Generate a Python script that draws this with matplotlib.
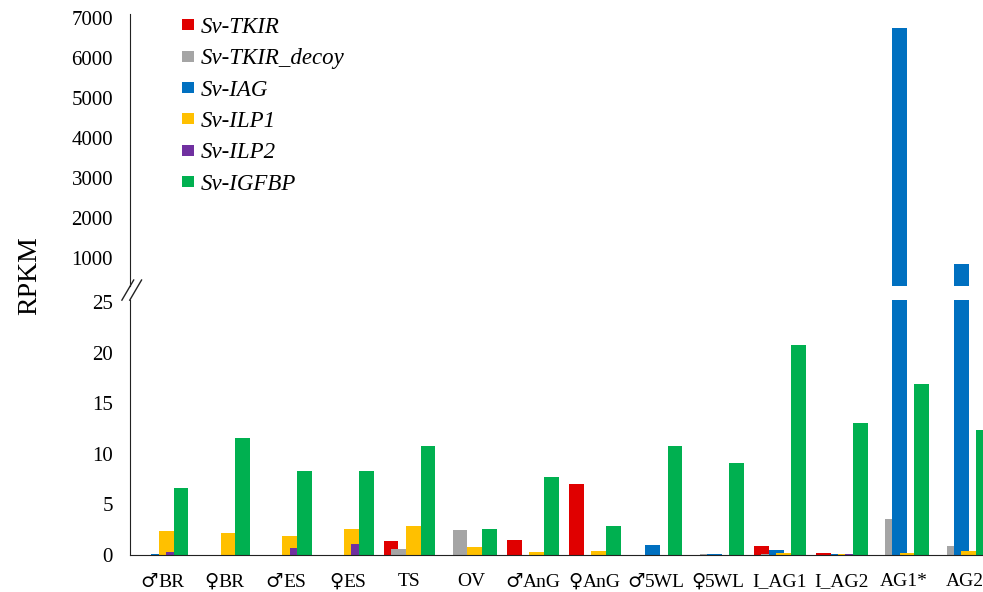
import matplotlib
matplotlib.use("Agg")
import matplotlib.pyplot as plt
from matplotlib.offsetbox import TextArea, HPacker, AnnotationBbox
import numpy as np

categories = ["♂BR", "♀BR", "♂ES", "♀ES", "TS", "OV", "♂AnG", "♀AnG",
              "♂5WL", "♀5WL", "I_AG1", "I_AG2", "AG1*", "AG2"]
series_names = ["Sv-TKIR", "Sv-TKIR_decoy", "Sv-IAG", "Sv-ILP1", "Sv-ILP2", "Sv-IGFBP"]
tkir =       [0, 0, 0, 0, 1.38, 0, 1.48, 6.98, 0, 0.03, 0.89, 0.2, 0, 0]
tkir_decoy = [0, 0, 0, 0, 0.59, 2.47, 0, 0, 0, 0.05, 0.05, 0, 3.52, 0.92]
iag =        [0.1, 0, 0, 0, 0, 0, 0, 0, 1.02, 0.05, 0.49, 0.1, 6750, 850]
ilp1 =       [2.37, 2.14, 1.88, 2.57, 2.83, 0.76, 0.33, 0.4, 0, 0.03, 0.17, 0.05, 0.17, 0.4]
ilp2 =       [0.33, 0, 0.72, 1.09, 0, 0, 0, 0, 0, 0, 0, 0.1, 0, 0]
igfbp =      [6.6, 11.6, 8.3, 8.3, 10.77, 2.54, 7.74, 2.83, 10.77, 9.06, 20.75, 13.04, 16.9, 12.35]
colors = ["#E00000", "#A5A5A5", "#0070C0", "#FFC000", "#7030A0", "#00B050"]

serif = ["Liberation Serif", "DejaVu Serif"]
plt.rcParams["font.family"] = serif

fig = plt.figure(figsize=(9.83, 5.92), dpi=100)
ax_lo = fig.add_axes([0.132, 0.0625, 0.868, 0.4305])
ax_hi = fig.add_axes([0.132, 0.517, 0.868, 0.459])

x = np.arange(len(categories))
step = 0.12
width = 0.24
all_series = [tkir, tkir_decoy, iag, ilp1, ilp2, igfbp]
for ax in (ax_lo, ax_hi):
    for i, vals in enumerate(all_series):
        ax.bar(x + (i - 2.5) * step, vals, width, color=colors[i],
               label=series_names[i])
    ax.set_xlim(-0.53, 13.29)
    ax.tick_params(length=0, labelsize=15, pad=12)
    for s in ["top", "right"]:
        ax.spines[s].set_visible(False)
    ax.spines["left"].set_color("#222222")

ax_lo.set_ylim(0, 25.2)
ax_lo.set_yticks([0, 5, 10, 15, 20, 25])
ax_lo.set_xticks([])
ax_lo.spines["bottom"].set_color("#222222")

# category labels; gender signs in DejaVu Serif so they match the letters in size
for xi, cat in zip(x, categories):
    parts = []
    if cat[0] in "♂♀":
        parts.append(TextArea(cat[0], textprops=dict(family="DejaVu Serif", size=14)))
        cat = cat[1:]
    parts.append(TextArea(cat, textprops=dict(family=serif, size=14)))
    box = HPacker(children=parts, pad=0, sep=0, align="baseline")
    ab = AnnotationBbox(box, (xi, 0), xycoords=ax_lo.get_xaxis_transform(),
                        xybox=(0, -13), boxcoords="offset points",
                        box_alignment=(0.5, 1), frameon=False)
    ax_lo.add_artist(ab)

ax_hi.set_ylim(300, 7100)
ax_hi.set_yticks([1000, 2000, 3000, 4000, 5000, 6000, 7000])
ax_hi.set_xticks([])
ax_hi.spines["bottom"].set_visible(False)
ax_hi.patch.set_alpha(0)

# break marks
for dx in (0.0, 0.008):
    fig.add_artist(plt.Line2D([0.124 + dx, 0.136 + dx], [0.493, 0.527],
                              color="#222222", lw=1.0))

fig.text(0.03, 0.535, "RPKM", rotation=90, fontsize=20, va="center", ha="center")

leg = ax_hi.legend(loc="upper left", bbox_to_anchor=(0.183, 0.975),
                   bbox_transform=fig.transFigure, frameon=False,
                   borderpad=0.1, borderaxespad=0,
                   handlelength=0.5, handleheight=0.35, handletextpad=0.3,
                   labelspacing=0.45,
                   prop={"family": serif, "style": "italic", "size": 16.5})

fig.savefig("out.png", dpi=100)
